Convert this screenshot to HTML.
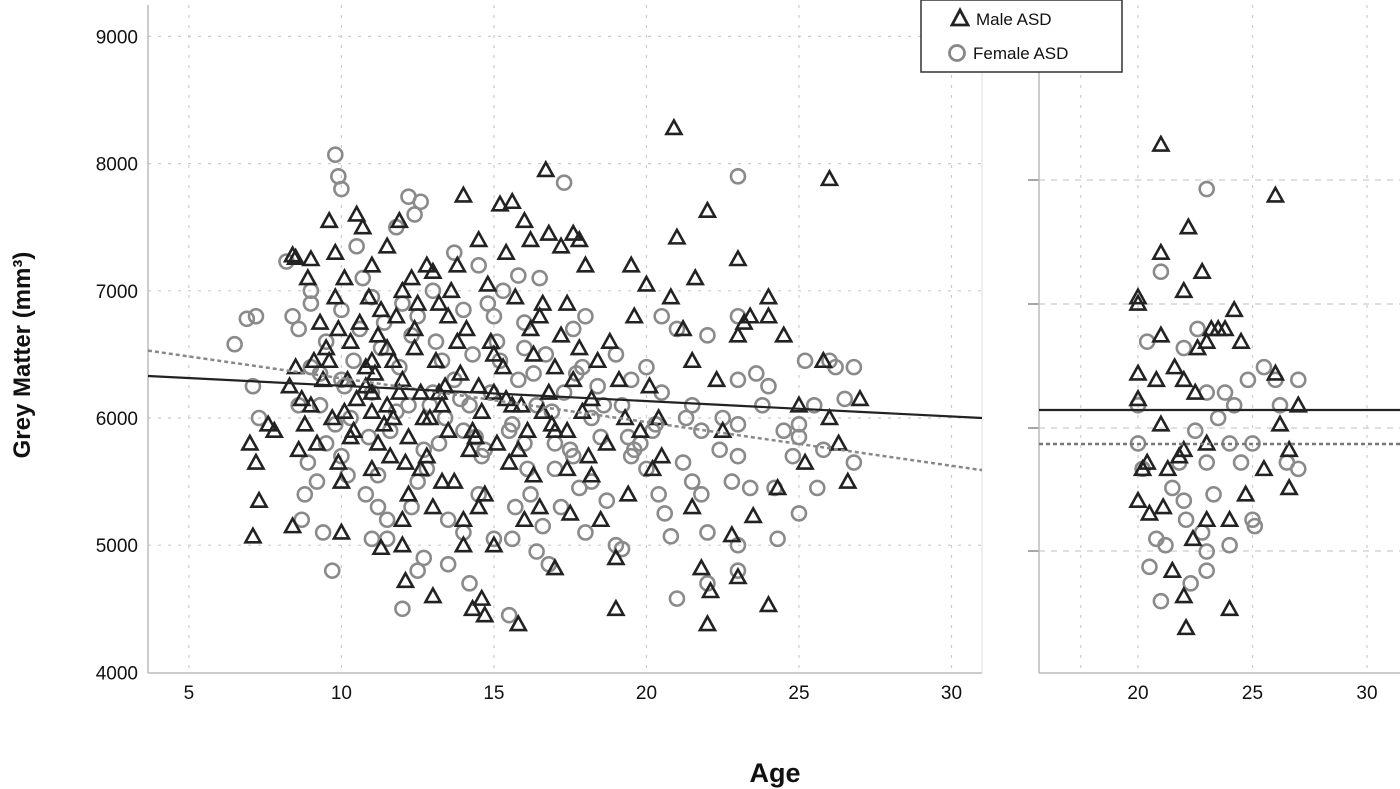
<!DOCTYPE html>
<html><head><meta charset="utf-8"><style>
html,body{margin:0;padding:0;background:#fff;width:1400px;height:789px;overflow:hidden}
svg text{font-family:"Liberation Sans",Arial,sans-serif}
</style></head><body>
<svg id="chart" width="1400" height="789" xmlns="http://www.w3.org/2000/svg">
<g id="grid"></g>
<g id="axes"></g>
<g id="marks"></g>
<text transform="translate(30,355) rotate(-90)" text-anchor="middle" font-size="24" font-weight="bold" fill="#111">Grey Matter (mm³)</text>
<text x="775" y="782" text-anchor="middle" font-size="27" font-weight="bold" fill="#111">Age</text>
<g>
<rect x="921" y="0" width="201" height="72" fill="#fff" stroke="#333" stroke-width="1.5"/>
<polygon points="960,10 952,25 968,25" fill="none" stroke="#222" stroke-width="2.8"/>
<text x="976" y="25" font-size="17" fill="#111">Male ASD</text>
<circle cx="957" cy="53" r="7.5" fill="none" stroke="#888" stroke-width="2.8"/>
<text x="973" y="59" font-size="17" fill="#111">Female ASD</text>
</g>
</svg>
<script>
const yTicks=[4000,5000,6000,7000,8000,9000];
const xTicksLeft=[5,10,15,20,25,30];
const xTicksRight=[20,25,30];
const maleAge=[7,7.2,7.3,7.1,7.6,7.8,8.3,8.4,8.5,8.4,8.6,8.7,8.9,9,9.1,9.3,9.5,9.6,9.8,9.8,9.9,10,10,10.1,10.3,10.5,10.7,10.8,11,11,11,11.2,11.3,11.5,11.5,11.8,11.9,12,12.1,12.2,12.3,12.5,12.8,13,13,13.3,13.5,13.8,14,14,14.3,14.5,14.6,14.7,15,15.2,15.6,15.8,16,16.2,16.5,16.7,16.8,17,17.2,17.6,17.8,18,18.2,18.5,18.8,19,19,19.3,19.5,19.6,20,20.2,20.5,20.8,20.9,21,21.2,21.5,21.5,21.8,21.6,22,22,22.1,22.3,22.5,22.8,23,23,23,23.2,23.4,23.5,24,24,24,24.3,24.5,25,25.2,25.8,26,26,26.3,26.6,27,
10.2,10.5,10.8,11.2,11.5,11.7,12,12.2,12.4,12.6,12.8,13.1,13.3,13.5,13.7,13.9,14.1,14.3,14.5,14.7,14.9,15.1,15.3,15.5,15.7,15.9,16.1,16.3,16.5,16.8,17,17.2,17.4,17.6,17.9,18.1,18.4,18.7,19.1,19.4,19.8,20.1,20.4,9,9.2,9.4,8.8,8.5,9.7,10.4,11,12,13,14,15,16,14.5,16.3,17.5,11.6,12.7,13.2,14.8,15.4,16.6,12,11.3,10.9,13.6,17.4,18.2,
9.6,10.1,10.6,11.1,11.4,11.9,12.4,12.9,13.4,13.8,14.2,14.6,15.0,15.4,15.8,16.2,16.6,17.0,17.4,17.8,10.3,11.7,12.6,13.2,14.4,15.6,16.9,9.9,11.0,12.1];
const maleGM=[5800,5650,5350,5070,5950,5900,6250,7280,7260,5150,5750,6150,7100,7250,6450,6750,6550,7550,7300,6950,5650,5100,5500,7100,6600,7600,7500,6400,6450,7200,6050,5800,4980,7350,6100,6800,7550,5000,4720,5400,7100,6900,7200,4600,7150,5500,5900,7200,7750,5000,4500,7400,4580,4450,6200,7680,7700,4380,7550,7400,6800,7950,7450,4820,7350,7450,7400,7200,5550,5200,6600,4500,4900,6000,7200,6800,7050,5600,5700,6950,8280,7420,6700,6450,5300,4820,7100,7630,4380,4640,6300,5900,5080,7250,6650,4750,6750,6800,5230,6950,6800,4530,5450,6650,6100,5650,6450,7880,6000,5800,5500,6150,
6300,6150,6250,6650,6550,6000,6300,5850,6700,6200,5700,6450,6100,6800,5500,6350,6700,5900,6250,5400,6600,5800,6400,5650,6950,6100,5900,6500,5300,6200,5900,6650,5600,6300,6050,5700,6450,5800,6300,5400,5900,6250,6000,6100,5800,6300,5950,6400,6000,5900,5600,5200,5300,5200,5000,5200,5300,5550,5250,5700,6000,6900,7050,7300,6900,7000,6850,6950,7000,6900,6150,
6450,6050,6750,6350,5950,6200,6550,6000,6250,6600,5750,6050,6500,6150,5750,6700,6050,6400,5900,6550,5850,6450,5600,6200,5850,6100,5950,6700,6200,5650];
const femaleAge=[6.5,6.9,7.2,7.1,7.3,8.2,8.4,8.6,8.7,8.8,9,9.3,9.4,9.5,9.7,9.8,9.9,10,10.2,10.5,10.7,11,11.2,11.5,11.8,12,12.2,12.4,12.6,12.5,12.7,13,13.2,13.5,13.7,14,14.2,14.5,14.8,15,15.3,15.5,15.6,15.8,16,16.2,16.4,16.6,16.8,17,17.3,17.6,17.8,18,18.2,18.5,18.7,19,19.2,19.4,19.8,20,20.2,20.4,20.6,20.8,21,21,21.3,21.5,21.8,22,22,22,22.5,22.8,23,23,23,23,23,23,23,23.4,23.6,23.8,24,24.2,24.3,24.8,25,25,25,25.2,25.5,25.6,25.8,26,26.2,26.5,26.8,26.8,
9.5,10,10.3,10.6,11,11.3,11.6,11.9,12.2,12.5,12.8,13.1,13.4,13.7,14,14.3,14.6,14.9,15.2,15.5,15.8,16.1,16.4,16.7,17,17.3,17.6,17.9,18.2,18.6,19,19.5,20,20.5,21.5,9,8.6,9.2,10,10.8,11.5,12.3,13.5,14.5,15,16,13,14,12,11,10,9,16.5,18,19.5,20.5,21.8,12.5,14.2,15.7,17.2,
9.3,9.8,10.4,10.9,11.4,11.8,12.3,12.7,13.3,13.9,14.4,15.1,15.6,16.3,16.9,17.5,18.4,19.2,20.3,21.2,8.9,10.1,11.2,12.9,14.7,16.0,17.7,19.6,22.4,24.5];
const femaleGM=[6580,6780,6800,6250,6000,7230,6800,6700,5200,5400,6900,6100,5100,5800,4800,8070,7900,7800,5550,7350,7100,5050,5300,5050,7500,4500,7740,7600,7700,4800,4900,6200,5800,4850,7300,5100,4700,7200,6900,5050,7000,4450,5050,7120,5800,5400,4950,5150,4850,5600,7850,6700,5450,5100,6000,5850,5350,5000,4970,5850,5800,6400,5900,5400,5250,5070,6700,4580,6000,5500,5400,6650,5100,4700,6000,5500,7900,6800,6300,5950,5700,5000,4800,5450,6350,6100,6250,5450,5050,5700,5950,5850,5250,6450,6100,5450,5750,6450,6400,6150,6400,5650,
6600,6300,6000,6700,6200,6550,5900,6400,6100,6800,5600,6600,6000,6300,5900,6500,5700,6200,6450,5900,6300,5600,6100,6500,5800,6200,5700,6400,5500,6100,6500,5700,5600,6200,6100,6400,6100,5500,5700,5400,5200,5300,5200,5400,6800,6750,7000,6850,6900,6950,6850,7000,7100,6800,6300,6800,5900,5500,6100,5300,5300,
6350,5950,6450,5850,6750,6050,6650,5750,6450,6150,5850,6600,5950,6350,6050,5750,6250,6100,5950,5650,5650,6250,5550,6100,5750,6550,6350,5750,5750,5900];
const maleAgeR=[20,20,20,20,20,20.2,20.4,20.5,20.8,21,21,21,21,21.1,21.3,21.5,21.6,21.8,22,22,22,22,22.1,22.2,22.4,22.5,22.6,22.8,23,23,23,23.2,23.5,23.8,24,24,24.2,24.5,24.7,25.5,26,26,26.2,26.6,26.6,27];
const maleGMR=[6950,6900,6350,6150,5350,5600,5650,5250,6300,8150,7300,6650,5950,5300,5600,4800,6400,5700,7000,6300,5750,4600,4350,7500,5050,6200,6550,7150,6600,5800,5200,6700,6700,6700,5200,4500,6850,6600,5400,5600,7750,6350,5950,5750,5450,6100];
const femaleAgeR=[20,20,20.2,20.4,20.5,20.8,21,21,21.2,21.5,21.8,22,22,22.1,22.3,22.5,22.6,22.8,23,23,23,23,23,23.3,23.5,23.8,24,24,24.2,24.5,24.8,25,25,25.1,25.5,26,26.2,26.5,27,27];
const femaleGMR=[6100,5800,5600,6600,4830,5050,7150,4560,5000,5450,5650,6550,5350,5200,4700,5900,6700,5100,7800,6200,5650,4950,4800,5400,6000,6200,5800,5000,6100,5650,6300,5800,5200,5150,6400,6300,6100,5650,6300,5600];
const fitLeftMale=[6330,6000];
const fitLeftFemale=[6530,5590];
const fitRightMale=[6063];
const fitRightFemale=[5796];

const NS="http://www.w3.org/2000/svg";
const L={x0:148,x1:982,a0:3.66,a1:31.0};
function xL(a){return L.x0+(a-L.a0)/(L.a1-L.a0)*(L.x1-L.x0);}
function xR(a){return 1138+(a-20)*22.9;}
function yS(v){return 418-(v-6000)*0.1272;}
function mk(tag,attrs,parent){const e=document.createElementNS(NS,tag);for(const k in attrs)e.setAttribute(k,attrs[k]);parent.appendChild(e);return e;}
const grid=document.getElementById('grid'),axes=document.getElementById('axes'),marks=document.getElementById('marks');
xTicksLeft.forEach(t=>{const l=mk('line',{x1:xL(t),x2:xL(t),y1:5,y2:673,stroke:'#ccc','stroke-width':1.2,'stroke-dasharray':'3,7'},grid);


const tx=mk('text',{x:xL(t),y:699,'text-anchor':'middle','font-size':19,fill:'#111'},axes);tx.textContent=t;

});
yTicks.forEach(t=>{if(t>4000){const l=mk('line',{x1:148,x2:982,y1:yS(t),y2:yS(t),stroke:'#ccc','stroke-width':1.2,'stroke-dasharray':'3,7'},grid);

}
const tx=mk('text',{x:138,y:yS(t)+7,'text-anchor':'end','font-size':19,fill:'#111'},axes);tx.textContent=t;

});
mk('line',{x1:148,x2:148,y1:5,y2:673,stroke:'#bbb','stroke-width':1.5},axes);
mk('line',{x1:148,x2:982,y1:673,y2:673,stroke:'#bbb','stroke-width':1.5},axes);
mk('line',{x1:982,x2:982,y1:5,y2:673,stroke:'#ddd','stroke-width':1},axes);
[17.5].concat(xTicksRight).forEach(t=>{const l=mk('line',{x1:xR(t),x2:xR(t),y1:5,y2:673,stroke:'#ccc','stroke-width':1.2,'stroke-dasharray':'3,7'},grid);

});
xTicksRight.forEach(t=>{const tx=mk('text',{x:xR(t),y:699,'text-anchor':'middle','font-size':19,fill:'#111'},axes);tx.textContent=t;

});
[180,304,428,551].forEach(y=>{mk('line',{x1:1039,x2:1400,y1:y,y2:y,stroke:'#ccc','stroke-width':1.2,'stroke-dasharray':'6,6'},grid);
mk('line',{x1:1028,x2:1039,y1:y,y2:y,stroke:'#888','stroke-width':1.5},axes);});
mk('line',{x1:1039,x2:1039,y1:5,y2:673,stroke:'#bbb','stroke-width':1.5},axes);
mk('line',{x1:1039,x2:1400,y1:673,y2:673,stroke:'#bbb','stroke-width':1.5},axes);
function tri(x,y){const p=mk('polygon',{points:`${x},${y-7.5} ${x-7.5},${y+6} ${x+7.5},${y+6}`,fill:'none',stroke:'#222','stroke-width':2.6},marks);

}
function circ(x,y){const c=mk('circle',{cx:x,cy:y,r:7,fill:'none',stroke:'#8a8a8a','stroke-width':2.6},marks);

}
femaleAge.forEach((a,i)=>circ(xL(a),yS(femaleGM[i])));
maleAge.forEach((a,i)=>tri(xL(a),yS(maleGM[i])));
femaleAgeR.forEach((a,i)=>circ(xR(a),yS(femaleGMR[i])));
maleAgeR.forEach((a,i)=>tri(xR(a),yS(maleGMR[i])));
let f;
f=mk('line',{x1:148,x2:982,y1:yS(fitLeftFemale[0]),y2:yS(fitLeftFemale[1]),stroke:'#888','stroke-width':2.5,'stroke-dasharray':'4,3'},marks);


f=mk('line',{x1:148,x2:982,y1:yS(fitLeftMale[0]),y2:yS(fitLeftMale[1]),stroke:'#222','stroke-width':2.2},marks);


f=mk('line',{x1:1039,x2:1400,y1:yS(fitRightFemale[0]),y2:yS(fitRightFemale[0]),stroke:'#777','stroke-width':2.5,'stroke-dasharray':'4,3'},marks);


f=mk('line',{x1:1039,x2:1400,y1:yS(fitRightMale[0]),y2:yS(fitRightMale[0]),stroke:'#222','stroke-width':2.2},marks);


</script>
</body></html>
